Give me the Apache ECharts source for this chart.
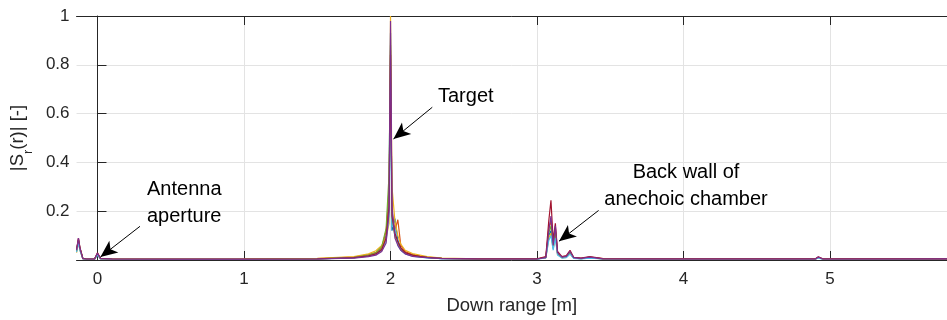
<!DOCTYPE html>
<html>
<head>
<meta charset="utf-8">
<script src="https://cdn.jsdelivr.net/npm/echarts@6/dist/echarts.min.js"></script>
<style>
  html, body { margin: 0; padding: 0; background: #fff; }
  #chart { width: 947px; height: 320px; }
</style>
</head>
<body>
<div id="chart"></div>
<script>
// down range [m], shared by all sweeps
const ranges = [-0.143, -0.13, -0.12, -0.1, -0.08, -0.02, 0.0, 0.02, 0.1, 0.5,
  1.0, 1.5, 1.75, 1.85, 1.9, 1.94, 1.97, 1.99, 2.0, 2.01,
  2.03, 2.05, 2.07, 2.1, 2.15, 2.2, 2.25, 2.35, 2.6, 3.0,
  3.06, 3.08, 3.095, 3.11, 3.125, 3.14, 3.17, 3.2, 3.225, 3.25,
  3.3, 3.36, 3.45, 3.8, 4.3, 4.9, 4.92, 4.95, 5.4, 5.798];

// |S_r(r)| for each sweep
const sweepBlue = [0.035, 0.08, 0.045, 0.006, 0.004, 0.003, 0.025, 0.006, 0.004, 0.003,
  0.003, 0.005, 0.01, 0.018, 0.026, 0.045, 0.1, 0.3, 0.93, 0.12,
  0.17, 0.08, 0.05, 0.03, 0.018, 0.014, 0.01, 0.006, 0.004, 0.004,
  0.01, 0.1, 0.12, 0.05, 0.11, 0.025, 0.01, 0.012, 0.03, 0.008,
  0.006, 0.01, 0.005, 0.004, 0.004, 0.004, 0.01, 0.004, 0.004, 0.004];
const sweepOrange = [0.04, 0.085, 0.05, 0.007, 0.004, 0.004, 0.027, 0.006, 0.004, 0.003,
  0.004, 0.006, 0.012, 0.022, 0.03, 0.05, 0.12, 0.25, 0.86, 0.2,
  0.12, 0.165, 0.06, 0.035, 0.022, 0.016, 0.012, 0.007, 0.005, 0.004,
  0.012, 0.13, 0.16, 0.07, 0.13, 0.03, 0.012, 0.016, 0.032, 0.01,
  0.007, 0.012, 0.006, 0.004, 0.004, 0.004, 0.011, 0.004, 0.004, 0.005];
const sweepYellow = [0.03, 0.075, 0.04, 0.005, 0.003, 0.003, 0.022, 0.005, 0.003, 0.003,
  0.004, 0.007, 0.014, 0.025, 0.038, 0.06, 0.09, 0.15, 1.0, 0.3,
  0.16, 0.1, 0.065, 0.04, 0.026, 0.02, 0.014, 0.008, 0.005, 0.004,
  0.009, 0.09, 0.11, 0.045, 0.1, 0.022, 0.009, 0.011, 0.026, 0.008,
  0.006, 0.009, 0.005, 0.004, 0.003, 0.004, 0.009, 0.004, 0.004, 0.004];
const sweepGreen = [0.038, 0.082, 0.048, 0.006, 0.004, 0.004, 0.024, 0.006, 0.004, 0.003,
  0.003, 0.005, 0.011, 0.02, 0.03, 0.055, 0.13, 0.35, 0.88, 0.16,
  0.1, 0.07, 0.045, 0.028, 0.02, 0.015, 0.011, 0.007, 0.004, 0.004,
  0.011, 0.11, 0.14, 0.06, 0.12, 0.028, 0.011, 0.014, 0.03, 0.009,
  0.006, 0.011, 0.005, 0.004, 0.004, 0.004, 0.01, 0.004, 0.004, 0.004];
const sweepCyan = [0.032, 0.07, 0.04, 0.005, 0.003, 0.003, 0.02, 0.005, 0.003, 0.003,
  0.003, 0.004, 0.009, 0.016, 0.024, 0.04, 0.08, 0.18, 0.72, 0.14,
  0.13, 0.06, 0.04, 0.025, 0.016, 0.012, 0.009, 0.006, 0.004, 0.003,
  0.009, 0.08, 0.1, 0.04, 0.09, 0.02, 0.008, 0.01, 0.024, 0.007,
  0.005, 0.008, 0.004, 0.003, 0.003, 0.003, 0.008, 0.003, 0.003, 0.004];
const sweepRed = [0.042, 0.09, 0.052, 0.007, 0.005, 0.004, 0.03, 0.007, 0.004, 0.004,
  0.004, 0.005, 0.01, 0.017, 0.025, 0.042, 0.09, 0.22, 0.84, 0.18,
  0.11, 0.075, 0.05, 0.03, 0.02, 0.015, 0.011, 0.007, 0.005, 0.005,
  0.014, 0.16, 0.245, 0.08, 0.15, 0.035, 0.014, 0.018, 0.04, 0.011,
  0.008, 0.014, 0.006, 0.005, 0.005, 0.005, 0.013, 0.005, 0.005, 0.005];
const sweepPurple = [0.04, 0.09, 0.05, 0.006, 0.004, 0.004, 0.028, 0.006, 0.004, 0.003,
  0.003, 0.004, 0.008, 0.014, 0.02, 0.035, 0.07, 0.2, 0.98, 0.22,
  0.09, 0.06, 0.04, 0.025, 0.015, 0.012, 0.01, 0.006, 0.004, 0.004,
  0.01, 0.12, 0.18, 0.06, 0.14, 0.03, 0.012, 0.015, 0.035, 0.01,
  0.007, 0.012, 0.005, 0.004, 0.004, 0.004, 0.012, 0.004, 0.004, 0.005];

const xTicks = [0, 1, 2, 3, 4, 5];

// annotation arrows: [from, to] in data coords
const arrowAntenna = [[0.29, 0.138], [0.02, 0.012]];
const arrowTarget = [[2.285, 0.626], [2.02, 0.496]];
const arrowWall = [[3.42, 0.203], [3.15, 0.077]];

const FONT = '"Liberation Sans", Arial, Helvetica, sans-serif';
const INK = '#262626';

const sweeps = [
  { data: sweepBlue, color: '#0072BD' },
  { data: sweepOrange, color: '#D95319' },
  { data: sweepYellow, color: '#EDB120' },
  { data: sweepGreen, color: '#77AC30' },
  { data: sweepCyan, color: '#4DBEEE' },
  { data: sweepRed, color: '#A2142F' },
  { data: sweepPurple, color: '#7E2F8E' }
];

const arrowLine = (a) => [
  { coord: a[0], symbol: 'none' },
  { coord: a[1], symbol: 'arrow', symbolSize: [11, 17] }
];

const series = sweeps.map((s) => ({
  type: 'line',
  data: ranges.map((x, i) => [x, s.data[i]]),
  showSymbol: false,
  lineStyle: { color: s.color, width: 1.2 },
  itemStyle: { color: s.color },
  emphasis: { disabled: true },
  silent: true
}));

series[series.length - 1].markLine = {
  silent: true,
  symbol: ['none', 'arrow'],
  label: { show: false },
  lineStyle: { color: '#000', width: 1, type: 'solid' },
  emphasis: { disabled: true },
  data: [arrowLine(arrowAntenna), arrowLine(arrowTarget), arrowLine(arrowWall)]
};

const textStyle = (t, align) => ({
  text: t, fill: '#000', font: '20px ' + FONT, lineHeight: 27, textAlign: align
});

const chart = echarts.init(document.getElementById('chart'));
chart.setOption({
  animation: false,
  backgroundColor: '#fff',
  grid: { left: 76, right: 0, top: 16, bottom: 58 },
  xAxis: [
    {
      type: 'value',
      min: -0.143,
      max: 5.798,
      name: 'Down range [m]',
      nameLocation: 'middle',
      nameGap: 36,
      nameTextStyle: { color: INK, fontSize: 18.5, fontFamily: FONT },
      axisLine: { lineStyle: { color: INK, width: 1 } },
      axisTick: { inside: true, length: 9, customValues: xTicks, lineStyle: { color: INK } },
      axisLabel: { customValues: xTicks, color: INK, fontSize: 17, fontFamily: FONT, margin: 11 },
      splitLine: { show: true, lineStyle: { color: '#e3e3e3', width: 1 } }
    },
    {
      type: 'value',
      position: 'top',
      min: -0.143,
      max: 5.798,
      axisLine: { show: true, lineStyle: { color: INK, width: 1 } },
      axisTick: { inside: true, length: 9, customValues: xTicks, lineStyle: { color: INK } },
      axisLabel: { show: false },
      splitLine: { show: false }
    }
  ],
  yAxis: {
    type: 'value',
    min: 0,
    max: 1,
    interval: 0.2,
    name: '{a|\u007CS}{b|r}{a|(r)\u007C [-]}',
    nameLocation: 'middle',
    nameGap: 48,
    nameRotate: 90,
    nameTextStyle: {
      rich: {
        a: { color: INK, fontSize: 18.5, fontFamily: FONT },
        b: { color: INK, fontSize: 13, fontFamily: FONT, verticalAlign: 'bottom', padding: [0, 0, -8, 0] }
      }
    },
    axisLine: { show: true, lineStyle: { color: INK, width: 1 } },
    axisTick: { inside: true, length: 9, lineStyle: { color: INK } },
    axisLabel: {
      color: INK,
      fontSize: 17,
      fontFamily: FONT,
      margin: 7,
      formatter: (v) => (v === 0 ? '' : String(v))
    },
    splitLine: { show: true, lineStyle: { color: '#e3e3e3', width: 1 } }
  },
  graphic: [
    { type: 'text', x: 147, y: 176, z: 100, silent: true, style: textStyle('Antenna\naperture', 'left') },
    { type: 'text', x: 438, y: 83, z: 100, silent: true, style: textStyle('Target', 'left') },
    { type: 'text', x: 686, y: 159, z: 100, silent: true, style: textStyle('Back wall of\nanechoic chamber', 'center') }
  ],
  series: series
});
</script>
</body>
</html>
